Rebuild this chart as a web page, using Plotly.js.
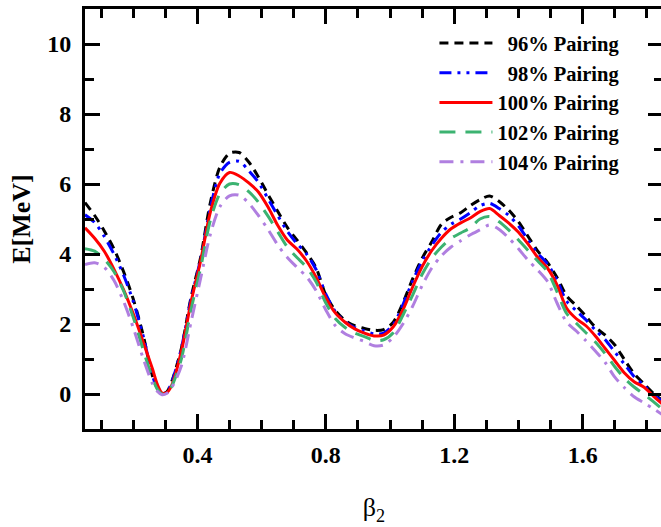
<!DOCTYPE html>
<html>
<head>
<meta charset="utf-8">
<script src="https://cdn.plot.ly/plotly-3.0.1.min.js"></script>
<style>
html, body { margin: 0; padding: 0; overflow: hidden; background: #fff; }
#chart { width: 665px; height: 527px; }
</style>
</head>
<body>
<div id="chart"></div>
<script>
const beta = [0.05,0.08,0.11,0.14,0.17,0.20,0.23,0.26,0.275,0.29,0.305,0.32,0.35,0.38,0.41,0.44,0.47,0.50,0.53,0.56,0.59,0.62,0.65,0.68,0.71,0.74,0.77,0.80,0.83,0.86,0.89,0.92,0.95,0.98,1.01,1.04,1.07,1.10,1.13,1.16,1.19,1.22,1.25,1.28,1.31,1.34,1.37,1.40,1.43,1.46,1.49,1.52,1.55,1.58,1.61,1.64,1.67,1.70,1.73,1.76,1.79,1.82,1.85];

const pairing96 = [5.47,5.10,4.66,4.15,3.50,2.72,1.73,0.52,0.18,0.01,0.06,0.35,1.30,2.75,3.90,5.45,6.48,6.88,6.90,6.63,6.20,5.70,5.22,4.76,4.40,4.03,3.60,2.82,2.38,2.10,1.95,1.87,1.82,1.84,2.05,2.60,3.28,3.88,4.35,4.85,5.05,5.18,5.38,5.55,5.66,5.50,5.25,4.92,4.50,4.08,3.76,3.33,2.80,2.52,2.22,1.90,1.68,1.40,0.98,0.58,0.30,0.02,-0.20];

const pairing98 = [5.12,4.90,4.50,4.00,3.40,2.65,1.70,0.53,0.18,0.01,0.06,0.33,1.30,2.70,3.85,5.30,6.30,6.62,6.65,6.38,6.05,5.58,5.10,4.65,4.30,4.00,3.55,2.85,2.35,2.06,1.90,1.80,1.72,1.74,1.98,2.55,3.22,3.80,4.25,4.62,4.85,5.00,5.18,5.38,5.45,5.30,5.10,4.80,4.40,4.02,3.72,3.25,2.65,2.38,2.12,1.82,1.55,1.20,0.85,0.50,0.25,-0.02,-0.22];

const pairing100 = [4.75,4.45,4.08,3.57,2.98,2.30,1.52,0.72,0.28,0.03,0.04,0.25,1.22,2.62,3.80,5.18,6.02,6.33,6.23,6.03,5.77,5.34,4.82,4.40,4.14,3.80,3.33,2.75,2.31,2.05,1.86,1.74,1.66,1.68,1.92,2.40,3.05,3.64,4.10,4.45,4.72,4.89,5.03,5.21,5.30,5.10,4.88,4.62,4.28,3.90,3.60,3.12,2.45,2.15,1.95,1.65,1.30,0.95,0.60,0.35,0.20,-0.06,-0.30];

const pairing102 = [4.15,4.08,3.85,3.50,2.95,2.20,1.30,0.45,0.14,0.00,0.04,0.22,1.00,2.40,3.60,4.95,5.72,6.00,5.98,5.78,5.48,5.08,4.64,4.20,3.90,3.62,3.20,2.60,2.15,1.90,1.74,1.64,1.53,1.55,1.75,2.25,2.82,3.42,3.88,4.20,4.45,4.60,4.75,5.00,5.07,4.92,4.68,4.40,4.10,3.80,3.50,2.92,2.30,2.02,1.75,1.48,1.15,0.78,0.45,0.20,0.00,-0.22,-0.45];

const pairing104 = [3.70,3.75,3.62,3.25,2.65,1.90,1.05,0.30,0.08,-0.02,0.02,0.18,0.80,2.05,3.30,4.55,5.35,5.66,5.68,5.45,5.10,4.70,4.26,3.90,3.62,3.35,2.95,2.40,1.95,1.72,1.60,1.50,1.38,1.40,1.62,2.00,2.50,3.10,3.60,3.95,4.20,4.38,4.55,4.69,4.83,4.70,4.45,4.15,3.82,3.54,3.22,2.60,2.05,1.80,1.52,1.22,0.90,0.48,0.18,-0.08,-0.25,-0.42,-0.60];

const seriesNames = ["\u200796% Pairing", "\u200798% Pairing", "100% Pairing", "102% Pairing", "104% Pairing"];
const seriesData = [pairing96, pairing98, pairing100, pairing102, pairing104];
const seriesColors = ["#000000", "#0000ff", "#ff0000", "#3cb371", "#b07fe0"];
const seriesDash = ["9px,6px", "12px,6px,3px,6px,3px,6px", "solid", "16px,10px", "14px,7px,3px,7px"];

const traces = seriesData.map((ys, i) => ({
  x: beta, y: ys, type: 'scatter', mode: 'lines', name: seriesNames[i],
  line: { color: seriesColors[i], width: 3, dash: seriesDash[i], shape: 'spline', smoothing: 0.8 }
}));

const serif = "Liberation Serif, Times New Roman, serif";
const axisCommon = {
  showline: true, linecolor: '#000', linewidth: 3, mirror: 'ticks',
  ticks: 'inside', ticklen: 15, tickwidth: 3, tickcolor: '#000',
  showgrid: false, zeroline: false,
  tickfont: { family: serif, size: 24, color: '#000', weight: 'bold' }
};

const layout = {
  width: 665, height: 527,
  margin: { l: 85, r: 2, t: 9, b: 98 },
  paper_bgcolor: '#fff', plot_bgcolor: '#fff',
  showlegend: true,
  legend: {
    x: 0.935, y: 0.966, xanchor: 'right', yanchor: 'top',
    bgcolor: 'rgba(0,0,0,0)', borderwidth: 0,
    font: { family: serif, size: 20.5, color: '#000', weight: 'bold' },
    itemwidth: 53, tracegroupgap: 0
  },
  xaxis: Object.assign({}, axisCommon, {
    range: [0.05, 1.85], tick0: 0, dtick: 0.4,
    minor: { dtick: 0.1, tick0: 0, ticks: 'inside', ticklen: 9, tickwidth: 3, tickcolor: '#000' },
    ticklabelstandoff: 2,
    title: { text: 'β<sub>2</sub>', font: { family: serif, size: 26, color: '#000' }, standoff: 32 }
  }),
  yaxis: Object.assign({}, axisCommon, {
    range: [-1, 11], tick0: 0, dtick: 2,
    minor: { dtick: 1, tick0: 0, ticks: 'inside', ticklen: 9, tickwidth: 3, tickcolor: '#000' },
    ticklabelstandoff: 6,
    title: { text: 'E[MeV]', font: { family: serif, size: 26, color: '#000', weight: 'bold' }, standoff: 10 }
  })
};

Plotly.newPlot('chart', traces, layout, { staticPlot: true, displayModeBar: false });
</script>
</body>
</html>
